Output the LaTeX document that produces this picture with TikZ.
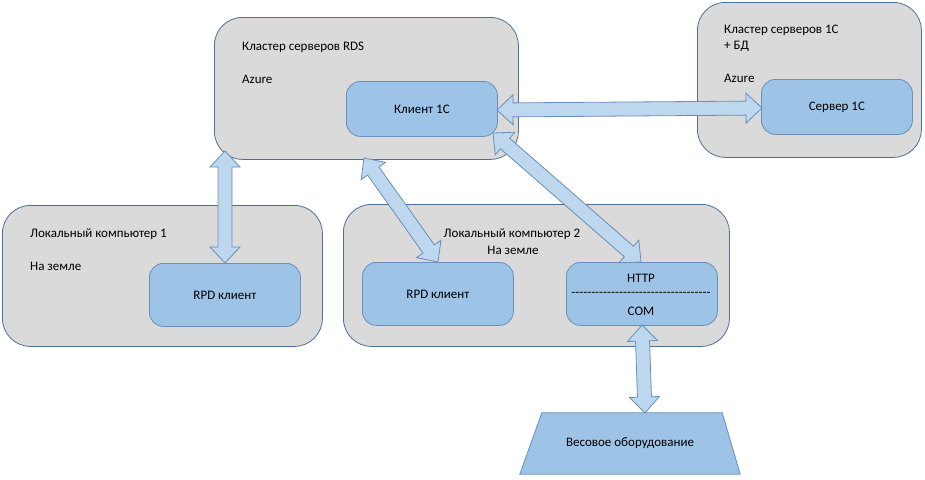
\documentclass[tikz,border=0pt]{standalone}
\usepackage{fontspec}
\setmainfont{Carlito}
\usetikzlibrary{calc}
\definecolor{grayfill}{HTML}{DADADA}
\definecolor{outeredge}{HTML}{4F6F96}
\definecolor{bluefill}{HTML}{9DC3E6}
\definecolor{blueedge}{HTML}{6A8FBA}
\definecolor{arrowfill}{HTML}{BDD7EE}
\newcommand\dblarr[2]{%
  \draw[arrowbody]
    (#1)
    -- ($(#1)!16pt!(#2)!15pt!90:(#2)$)
    -- ($(#1)!16pt!(#2)!7pt!90:(#2)$)
    -- ($(#2)!16pt!(#1)!7pt!-90:(#1)$)
    -- ($(#2)!16pt!(#1)!15pt!-90:(#1)$)
    -- (#2)
    -- ($(#2)!16pt!(#1)!15pt!90:(#1)$)
    -- ($(#2)!16pt!(#1)!7pt!90:(#1)$)
    -- ($(#1)!16pt!(#2)!7pt!-90:(#2)$)
    -- ($(#1)!16pt!(#2)!15pt!-90:(#2)$)
    -- cycle;}
\begin{document}
\begin{tikzpicture}[x=1pt,y=-1pt,font=\fontsize{13}{15}\selectfont,
  outerbox/.style={draw=outeredge,fill=grayfill,rounded corners=28pt,line width=0.8pt,anchor=north west,inner sep=0pt},
  innerbox/.style={draw=blueedge,fill=bluefill,rounded corners=14pt,line width=0.8pt,anchor=north west,inner sep=0pt,align=center},
  arrowbody/.style={draw=blueedge,fill=arrowfill,line width=0.8pt,line join=miter},
  lbl/.style={anchor=west,inner sep=0pt}]
\useasboundingbox (0,0) rectangle (925,479);
% outer boxes
\node[outerbox,minimum width=304pt,minimum height=142pt] (rds) at (214,17) {};
\node[outerbox,minimum width=224pt,minimum height=155pt] (c1c) at (697,2) {};
\node[outerbox,minimum width=320pt,minimum height=141pt] (lc1) at (2,205) {};
\node[outerbox,minimum width=386pt,minimum height=142pt] (lc2) at (343,204) {};
% labels
\node[lbl] (rdst) at (242,47) {Кластер серверов RDS};
\node[lbl] (rdsa) at (242,79) {Azure};
\node[lbl] (c1ct) at (724,30) {Кластер серверов 1С};
\node[lbl] (c1cb) at (724,46) {+ БД};
\node[lbl] (c1ca) at (724,78) {Azure};
\node[lbl] (lc1t) at (30,234) {Локальный компьютер 1};
\node[lbl] (lc1a) at (30,266) {На земле};
\node[inner sep=0pt] (lc2t) at (512,234) {Локальный компьютер 2};
\node[inner sep=0pt] (lc2a) at (513,250) {На земле};
% inner boxes
\node[innerbox,minimum width=151pt,minimum height=55pt] (k1c) at (346,81) {};
\node at (k1c.center) {Клиент 1С};
\node[innerbox,minimum width=151pt,minimum height=55pt] (srv) at (761,79) {};
\node at (srv.center) {Сервер 1С};
\node[innerbox,minimum width=151pt,minimum height=63pt] (rpd1) at (149,263) {};
\node at (rpd1.center) {RPD клиент};
\node[innerbox,minimum width=151pt,minimum height=63pt] (rpd2) at (362,262) {};
\node at (rpd2.center) {RPD клиент};
\node[innerbox,minimum width=151pt,minimum height=63pt] (http) at (566,262) {};
\node (httpt) at (641,278) {HTTP};
\node[inner sep=0pt] (dash) at (641,294) {\foreach \i in {1,...,35}{\hbox{-}}};
\node (comt) at (641,311) {COM};
% scales trapezium
\node[minimum width=220pt,minimum height=61pt,inner sep=0pt] (scale) at (630,443.5) {};
\draw[draw=blueedge,fill=bluefill,line width=0.8pt]
  (scale.south west) -- ($(scale.north west)+(22,0)$) -- ($(scale.north east)+(-18,0)$) -- (scale.south east) -- cycle;
\node (scalet) at (scale.center) {Весовое оборудование};
% connector coordinates
\coordinate (a1top) at (225,151);
\coordinate (a1bot) at (225,263);
\coordinate (a2top) at (364,158);
\coordinate (a2bot) at (438,262);
\coordinate (a3top) at (493,133);
\coordinate (a3bot) at (641,262);
\coordinate (a4l) at (497,110);
\coordinate (a4r) at (762,108);
\coordinate (a5top) at (642,325);
\coordinate (a5bot) at (645,413);
% arrows
\dblarr{a1top}{a1bot}
\dblarr{a2top}{a2bot}
\dblarr{a3top}{a3bot}
\dblarr{a4l}{a4r}
\dblarr{a5top}{a5bot}
\end{tikzpicture}
\end{document}
